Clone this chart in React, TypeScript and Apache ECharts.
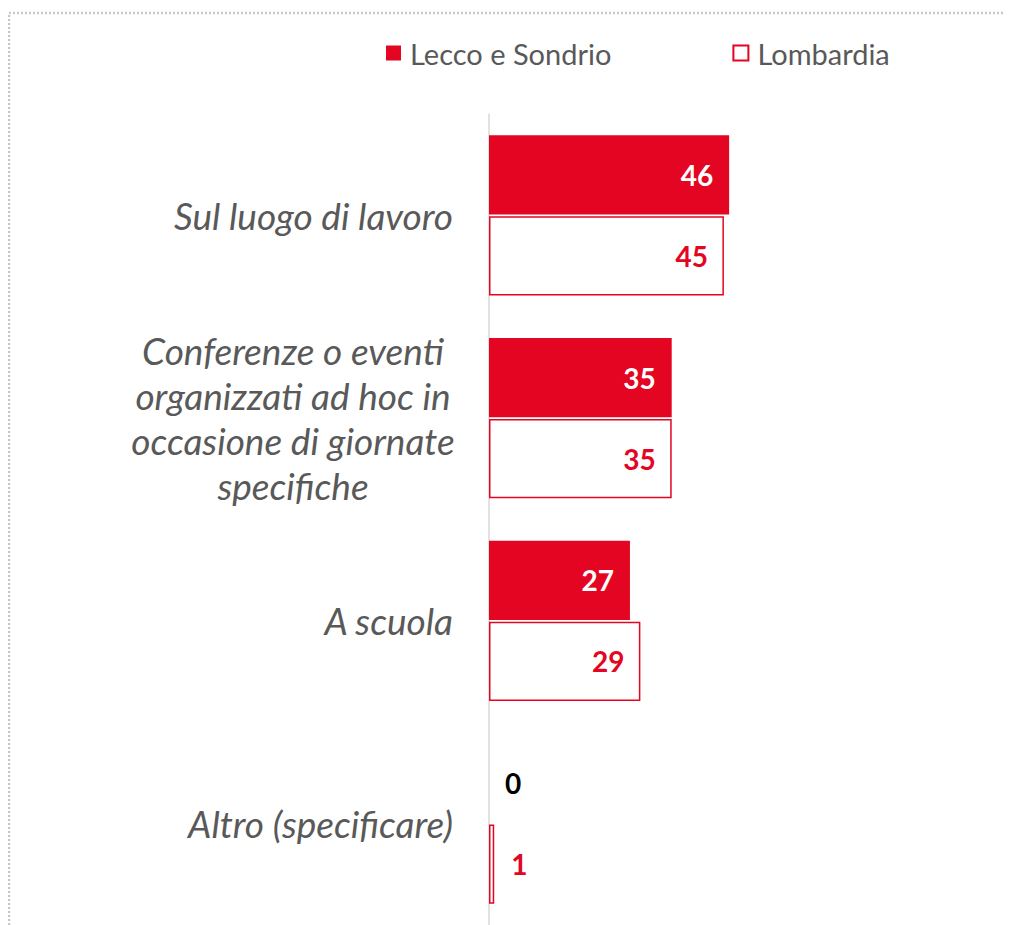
import React, { useEffect, useRef } from "react";
import * as echarts from "echarts";

const categories = [
  "Sul luogo di lavoro",
  "Conferenze o eventi\norganizzati ad hoc in\noccasione di giornate\nspecifiche",
  "A scuola",
  "Altro (specificare)",
];
const seriesNames = ["Lecco e Sondrio", "Lombardia"];
const lecco = [46, 35, 27, 0];
const lombardia = [45, 35, 29, 1];

const RED = "#E30521";
const GRAY = "#595959";
const FONT = "Lato, 'Noto Sans', sans-serif";

export default function App() {
  const ref = useRef<HTMLDivElement>(null);
  useEffect(() => {
    if (!ref.current) return;
    const chart = echarts.init(ref.current, undefined, { renderer: "svg" });
    const labelBase = {
      show: true,
      position: "insideRight",
      distance: 16,
      fontFamily: FONT,
      fontWeight: "bold",
      fontSize: 28,
    };
    chart.setOption({
      animation: false,
      backgroundColor: "#fff",
      graphic: [
        {
          type: "rect",
          silent: true,
          z: -1,
          shape: { x: 1, y: 5, width: 1100, height: 1100 },
          style: { fill: "none", stroke: "#C8C8C8", lineWidth: 2.5, lineDash: [2, 2] },
        },
      ],
      legend: {
        left: 373,
        top: 22,
        itemWidth: 15,
        itemHeight: 15,
        itemGap: 121,
        icon: "rect",
        textStyle: {
          fontFamily: FONT,
          fontSize: 29,
          color: GRAY,
          lineHeight: 36,
          padding: [0, 0, 0, 4],
        },
        data: seriesNames,
      },
      grid: { left: 481, top: 106, width: 261, height: 811 },
      xAxis: {
        type: "value",
        min: 0,
        max: 50,
        show: false,
      },
      yAxis: {
        type: "category",
        inverse: true,
        data: categories,
        axisLine: { show: true, lineStyle: { color: "#D9D9D9", width: 1.5 } },
        axisTick: { show: false },
        axisLabel: {
          interval: 0,
          margin: 36,
          fontFamily: FONT,
          fontStyle: "italic",
          fontSize: 37,
          color: GRAY,
          lineHeight: 45,
          formatter: (v: string) =>
            v.indexOf("\n") >= 0
              ? v
                  .split("\n")
                  .map((l) => `{c|${l}}`)
                  .join("\n")
              : v,
          rich: {
            c: {
              width: 320,
              align: "center",
              fontFamily: FONT,
              fontStyle: "italic",
              fontSize: 37,
              color: GRAY,
              lineHeight: 45,
            },
          },
        },
      },
      series: [
        {
          name: seriesNames[0],
          type: "bar",
          barCategoryGap: "21%",
          barGap: "2.5%",
          itemStyle: { color: RED },
          label: { ...labelBase, color: "#fff" },
          data: lecco.map((v) =>
            v < 3 ? { value: v, label: { position: "right", color: "#000", distance: 16 } } : v
          ),
        },
        {
          name: seriesNames[1],
          type: "bar",
          barCategoryGap: "21%",
          barGap: "2.5%",
          itemStyle: { color: "#fff", borderColor: RED, borderWidth: 1.5 },
          label: { ...labelBase, color: RED },
          data: lombardia.map((v) =>
            v < 3 ? { value: v, label: { position: "right", color: RED, distance: 17 } } : v
          ),
        },
      ],
    });
    return () => chart.dispose();
  }, []);
  return <div ref={ref} style={{ width: 1004, height: 917 }} />;
}
